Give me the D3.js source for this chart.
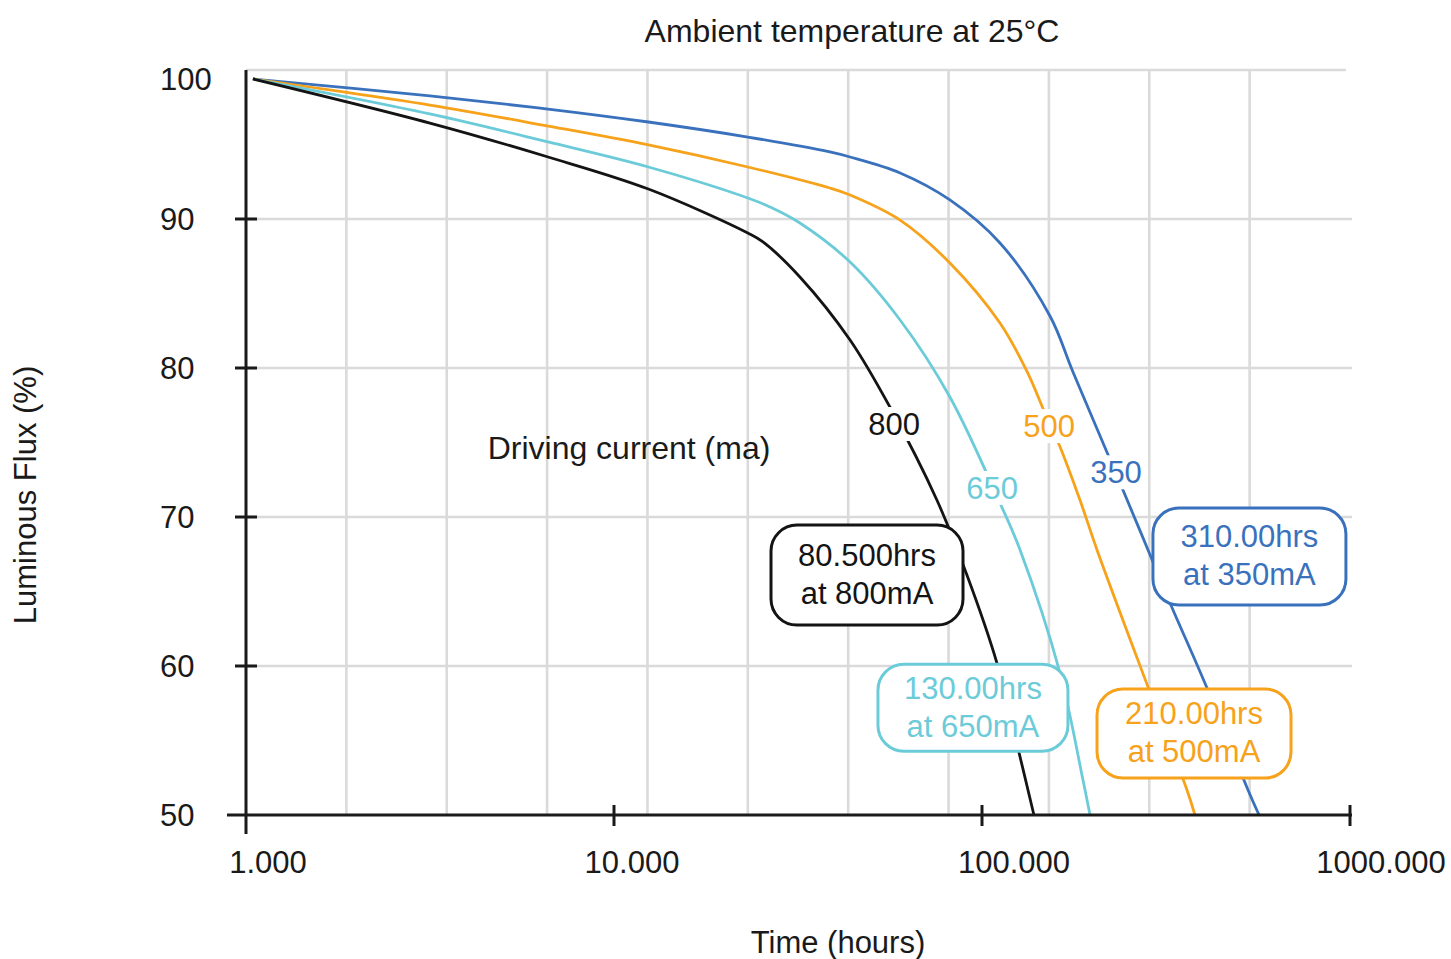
<!DOCTYPE html>
<html>
<head>
<meta charset="utf-8">
<script src="https://d3js.org/d3.v7.min.js"></script>
<style>
  body { margin: 0; background: #fff; }
  svg text { font-family: "Liberation Sans", Arial, sans-serif; fill: #1a1a1a; font-size: 31px; }
</style>
</head>
<body>
<svg id="chart" width="1451" height="959"></svg>
<script>
    // lifetime curves (hours, luminous flux %)
    var hours800 = [1.044, 3.16, 6.62, 12.4, 23.1, 25.4, 32.0, 43.8, 56.2, 75.4, 91.0, 109.8, 123.7, 138.4];
    var flux800 = [99.4, 96.44, 94.16, 92.01, 89.06, 88.46, 86.11, 81.88, 77.38, 71.14, 66.11, 60.2, 55.03, 50];

    var hours650 = [1.044, 3.16, 6.62, 12.4, 23.1, 26.5, 32.0, 43.8, 59.9, 81.8, 111.9, 126.9, 162.9, 188.1, 196.6];
    var flux650 = [99.4, 97.05, 95.17, 93.49, 91.41, 90.81, 89.73, 87.11, 83.22, 78.05, 70.94, 67.79, 59.53, 52.35, 50];

    var hours500 = [1.044, 3.16, 6.62, 12.4, 23.1, 38.6, 43.8, 59.9, 81.8, 111.9, 132.6, 148.3, 162.9, 184.6, 205.4, 282.6, 360.6, 379.1];
    var flux500 = [99.4, 97.65, 96.24, 94.97, 93.49, 92.08, 91.61, 89.93, 87.05, 83.02, 79.75, 76.98, 74.72, 71.14, 67.79, 58.59, 51.68, 50];

    var hours350 = [1.044, 3.16, 6.62, 12.4, 23.1, 38.6, 43.8, 59.9, 81.8, 111.9, 153.0, 176.7, 241.6, 282.6, 324.3, 408.7, 528.3, 566.0];
    var flux350 = [99.4, 98.27, 97.38, 96.51, 95.5, 94.5, 94.16, 93.09, 91.28, 88.39, 83.49, 79.73, 71.81, 67.79, 64.23, 58.52, 51.68, 50];

    var currents = ["800", "650", "500", "350"];
    var colours = ["#141414", "#6ccbd9", "#f7a21b", "#3a71bc"];

    // where the current labels sit on their curves (hours, %)
    var labelHours = [57.7, 106.5, 152.1, 231.3];
    var labelFlux = [76.24, 71.95, 76.1, 73.0];

    // call-out boxes
    var boxHours = [48.7, 94.5, 376.8, 533];
    var boxFlux = [66.1, 57.2, 55.47, 67.35];
    var boxText = [["80.500hrs", "at 800mA"], ["130.00hrs", "at 650mA"], ["210.00hrs", "at 500mA"], ["310.00hrs", "at 350mA"]];

    var yTicks = [100, 90, 80, 70, 60, 50];
    var xTicks = [1, 10, 100, 1000];
    var xTickLabels = ["1.000", "10.000", "100.000", "1000.000"];

    var svg = d3.select("#chart");

    var x = d3.scaleLog().domain([1, 1000]).range([246, 1350]),
        y = d3.scaleLinear().domain([50, 100]).range([815, 70]);

    // the vertical grid is evenly spaced across the plot, not per decade
    var gx = d3.scaleLinear().domain([0, 11]).range([x(1), x(1000)]);

    var grid = svg.append("g")
        .attr("stroke", "#dadada")
        .attr("stroke-width", 2.6);

    grid.selectAll(".vg")
        .data(d3.range(1, 11))
        .enter().append("line")
        .attr("x1", function(d) { return gx(d); })
        .attr("x2", function(d) { return gx(d); })
        .attr("y1", y(100))
        .attr("y2", y(50));

    grid.selectAll(".hg")
        .data(yTicks.filter(function(d) { return d > 50; }))
        .enter().append("line")
        .attr("x1", x(1))
        .attr("x2", function(d) { return d == 100 ? x(1000) - 4 : x(1000) + 2; })
        .attr("y1", function(d) { return y(d); })
        .attr("y2", function(d) { return y(d); });

    // curves
    var line = d3.line()
        .x(function(d) { return x(d[0]); })
        .y(function(d) { return y(d[1]); })
        .curve(d3.curveCatmullRom.alpha(0.5));

    var series = [
        d3.zip(hours800, flux800),
        d3.zip(hours650, flux650),
        d3.zip(hours500, flux500),
        d3.zip(hours350, flux350)
    ];

    // draw 350 first so black sits on top, as in the picture
    [3, 2, 1, 0].forEach(function(i) {
        svg.append("path")
            .datum(series[i])
            .attr("fill", "none")
            .attr("stroke", colours[i])
            .attr("stroke-width", 2.8)
            .attr("d", line);
    });

    // axes
    var axis = svg.append("g")
        .attr("stroke", "#1a1a1a")
        .attr("stroke-width", 3);

    axis.append("line")
        .attr("x1", x(1)).attr("x2", x(1))
        .attr("y1", y(100)).attr("y2", y(50) + 19);

    axis.append("line")
        .attr("x1", x(1) - 19).attr("x2", x(1000) + 2)
        .attr("y1", y(50)).attr("y2", y(50));

    axis.selectAll(".yt")
        .data(yTicks.filter(function(d) { return d > 50 && d < 100; }))
        .enter().append("line")
        .attr("x1", x(1) - 11).attr("x2", x(1) + 11)
        .attr("y1", function(d) { return y(d); })
        .attr("y2", function(d) { return y(d); });

    axis.selectAll(".xt")
        .data(xTicks.slice(1))
        .enter().append("line")
        .attr("x1", function(d) { return x(d); })
        .attr("x2", function(d) { return x(d); })
        .attr("y1", y(50) - 10).attr("y2", y(50) + 11);

    svg.selectAll(".ylab")
        .data(yTicks)
        .enter().append("text")
        .attr("x", 160)
        .attr("y", function(d) { return y(d) + (d == 100 ? 20 : 11); })
        .text(function(d) { return d; });

    // the tick labels sit a little right of their ticks, not quite evenly
    var xLabelShift = [22, 18, 32, 31];
    svg.selectAll(".xlab")
        .data(xTicks)
        .enter().append("text")
        .attr("x", function(d, i) { return x(d) + xLabelShift[i]; })
        .attr("y", 873)
        .attr("text-anchor", "middle")
        .text(function(d, i) { return xTickLabels[i]; });

    // titles
    svg.append("text")
        .attr("x", 852).attr("y", 42)
        .attr("text-anchor", "middle")
        .style("font-size", "32px")
        .text("Ambient temperature at 25°C");

    svg.append("text")
        .attr("x", 838).attr("y", 953)
        .attr("text-anchor", "middle")
        .text("Time (hours)");

    svg.append("text")
        .attr("transform", "translate(36,495) rotate(-90)")
        .attr("text-anchor", "middle")
        .text("Luminous Flux (%)");

    svg.append("text")
        .attr("x", 629).attr("y", 459)
        .attr("text-anchor", "middle")
        .style("font-size", "32px")
        .text("Driving current (ma)");

    // current labels on the curves, with a white patch behind
    currents.forEach(function(c, i) {
        var cx = x(labelHours[i]), cy = y(labelFlux[i]);
        svg.append("rect")
            .attr("x", cx - 32).attr("y", cy - 17)
            .attr("width", 64).attr("height", 34)
            .attr("fill", "#fff");
        svg.append("text")
            .attr("x", cx).attr("y", cy + 11)
            .attr("text-anchor", "middle")
            .style("fill", colours[i])
            .text(c);
    });

    // call-out boxes
    var boxW = [192, 190, 194, 193], boxH = [100, 87, 89, 97];
    boxText.forEach(function(lines, i) {
        var cx = x(boxHours[i]), cy = y(boxFlux[i]);
        svg.append("rect")
            .attr("x", cx - boxW[i] / 2).attr("y", cy - boxH[i] / 2)
            .attr("width", boxW[i]).attr("height", boxH[i])
            .attr("rx", 26).attr("ry", 26)
            .attr("fill", "#fff")
            .attr("stroke", colours[i])
            .attr("stroke-width", 3);
        svg.append("text")
            .attr("x", cx).attr("y", cy - 9)
            .attr("text-anchor", "middle")
            .style("fill", colours[i])
            .text(lines[0]);
        svg.append("text")
            .attr("x", cx).attr("y", cy + 29)
            .attr("text-anchor", "middle")
            .style("fill", colours[i])
            .text(lines[1]);
    });
</script>
</body>
</html>
